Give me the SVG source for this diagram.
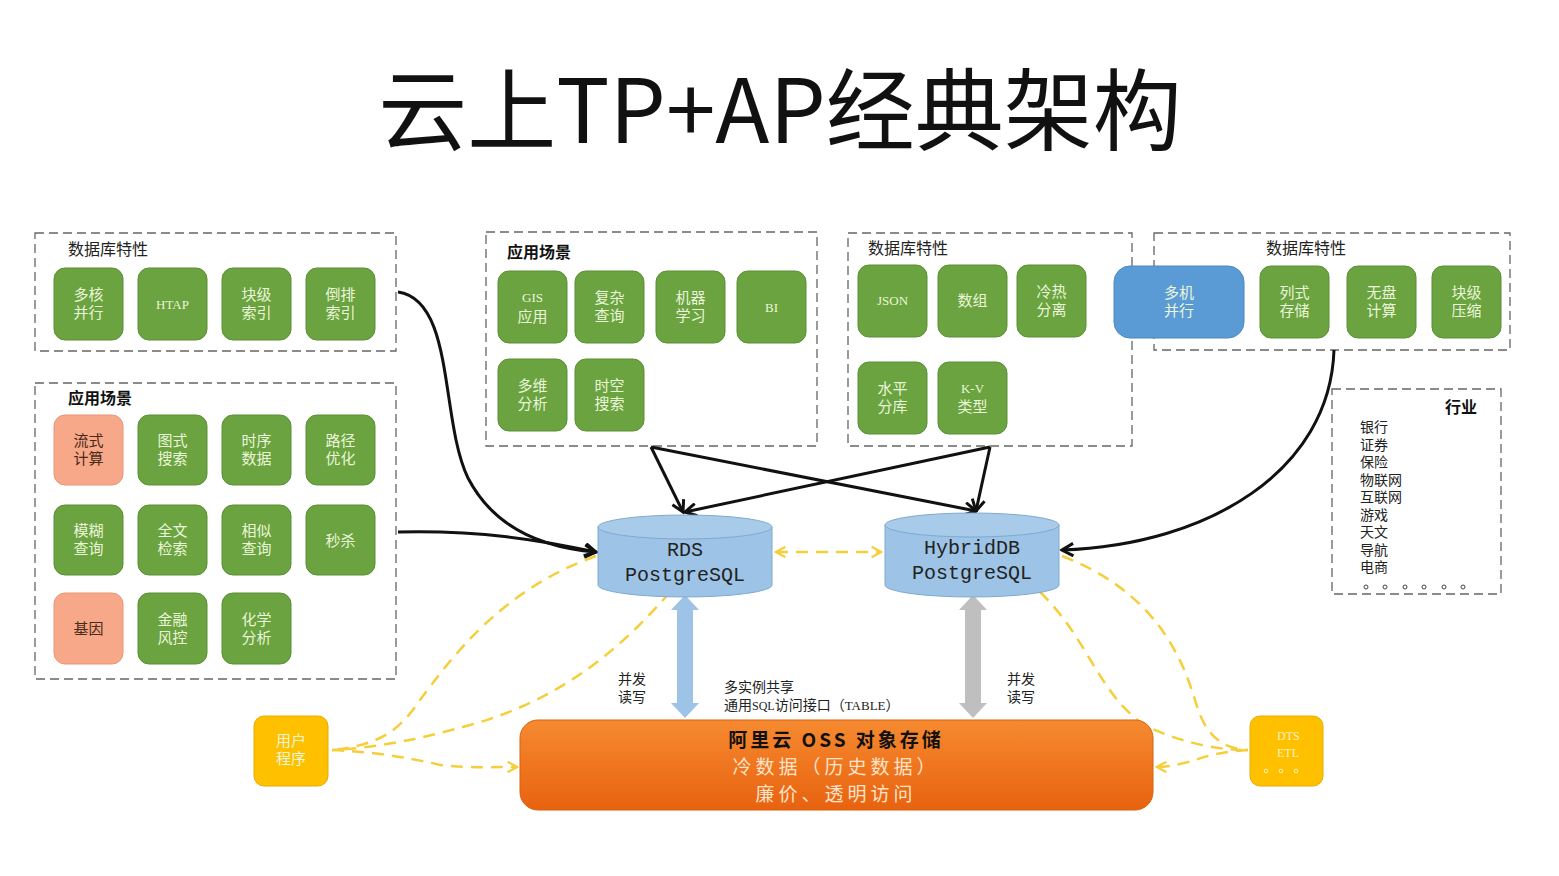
<svg xmlns="http://www.w3.org/2000/svg" width="1559" height="876" viewBox="0 0 1559 876">
<defs>
<style>
.box{fill:none;stroke:#666;stroke-width:1.3;stroke-dasharray:9 5}
.hdr{font-family:"Noto Sans CJK SC","Noto Sans",sans-serif;font-size:16px;fill:#222}
.hdrb{font-family:"Noto Sans CJK SC","Noto Sans",sans-serif;font-size:16px;font-weight:bold;fill:#111}
.g{fill:#6aa33f;stroke:#5a8f35;stroke-width:1}
.s{fill:#f7a888;stroke:#e8957a;stroke-width:1}
.b{fill:#5b9bd5;stroke:#4a88c2;stroke-width:1}
.t{font-family:"Noto Sans CJK SC","Noto Sans",sans-serif;font-size:15px;fill:#eaf6da;text-anchor:middle}
.td{font-family:"Noto Sans CJK SC","Noto Sans",sans-serif;font-size:15px;fill:#4a2a1a;text-anchor:middle}
.tm{font-family:"Liberation Serif",serif;font-size:13px;fill:#eaf6da;text-anchor:middle}
.blk{fill:none;stroke:#111;stroke-width:3}
.yel{fill:none;stroke:#f5cf3a;stroke-width:2.5;stroke-dasharray:12 8}
.lbl{font-family:"Noto Sans CJK SC","Noto Sans",sans-serif;font-size:14px;fill:#222}
.ind{font-family:"Noto Sans CJK SC","Noto Sans",sans-serif;font-size:14px;fill:#222}
.cyl{fill:#9dc3e6;stroke:#7fa9d0;stroke-width:1}
.cylt{font-family:"Liberation Mono",monospace;font-size:20px;fill:#222;text-anchor:middle}
.oss{font-family:"Noto Sans CJK SC","Noto Sans",sans-serif;font-size:19px;text-anchor:middle;letter-spacing:4px}
</style>
<marker id="ab" viewBox="0 0 12 12" refX="10" refY="6" markerWidth="5" markerHeight="5" orient="auto"><path d="M1,1 L10,6 L1,11" fill="none" stroke="#111" stroke-width="2.4"/></marker>
<marker id="ay" viewBox="0 0 12 12" refX="10" refY="6" markerWidth="5" markerHeight="5" orient="auto-start-reverse"><path d="M1,1 L10,6 L1,11" fill="none" stroke="#f5cf3a" stroke-width="2.2"/></marker>
<linearGradient id="og" x1="0" y1="0" x2="0" y2="1"><stop offset="0" stop-color="#f68a30"/><stop offset="1" stop-color="#e8620f"/></linearGradient>
</defs>
<rect width="1559" height="876" fill="#fff"/>
<text x="780" y="143" text-anchor="middle" font-family="'Noto Sans CJK SC','Noto Sans',sans-serif" font-size="89" fill="#111">云上TP+AP经典架构</text>

<g id="box-db1">
<rect class="box" x="35" y="233" width="361" height="118"/>
<text class="hdr" x="68" y="255">数据库特性</text>
<rect class="g" x="54" y="268" width="69" height="72" rx="11"/><text class="t" x="88.5" y="300">多核</text><text class="t" x="88.5" y="318">并行</text>
<rect class="g" x="138" y="268" width="69" height="72" rx="11"/><text class="tm" x="172.5" y="309">HTAP</text>
<rect class="g" x="222" y="268" width="69" height="72" rx="11"/><text class="t" x="256.5" y="300">块级</text><text class="t" x="256.5" y="318">索引</text>
<rect class="g" x="306" y="268" width="69" height="72" rx="11"/><text class="t" x="340.5" y="300">倒排</text><text class="t" x="340.5" y="318">索引</text>
</g>

<g id="box-app1">
<rect class="box" x="35" y="383" width="361" height="296"/>
<text class="hdrb" x="68" y="404">应用场景</text>
<rect class="s" x="54" y="415" width="69" height="70" rx="11"/><text class="td" x="88.5" y="446">流式</text><text class="td" x="88.5" y="464">计算</text>
<rect class="g" x="138" y="415" width="69" height="70" rx="11"/><text class="t" x="172.5" y="446">图式</text><text class="t" x="172.5" y="464">搜索</text>
<rect class="g" x="222" y="415" width="69" height="70" rx="11"/><text class="t" x="256.5" y="446">时序</text><text class="t" x="256.5" y="464">数据</text>
<rect class="g" x="306" y="415" width="69" height="70" rx="11"/><text class="t" x="340.5" y="446">路径</text><text class="t" x="340.5" y="464">优化</text>
<rect class="g" x="54" y="505" width="69" height="70" rx="11"/><text class="t" x="88.5" y="536">模糊</text><text class="t" x="88.5" y="554">查询</text>
<rect class="g" x="138" y="505" width="69" height="70" rx="11"/><text class="t" x="172.5" y="536">全文</text><text class="t" x="172.5" y="554">检索</text>
<rect class="g" x="222" y="505" width="69" height="70" rx="11"/><text class="t" x="256.5" y="536">相似</text><text class="t" x="256.5" y="554">查询</text>
<rect class="g" x="306" y="505" width="69" height="70" rx="11"/><text class="t" x="340.5" y="546">秒杀</text>
<rect class="s" x="54" y="593" width="69" height="71" rx="11"/><text class="td" x="88.5" y="634">基因</text>
<rect class="g" x="138" y="593" width="69" height="71" rx="11"/><text class="t" x="172.5" y="625">金融</text><text class="t" x="172.5" y="643">风控</text>
<rect class="g" x="222" y="593" width="69" height="71" rx="11"/><text class="t" x="256.5" y="625">化学</text><text class="t" x="256.5" y="643">分析</text>
</g>

<g id="box-app2">
<rect class="box" x="486" y="232" width="331" height="214"/>
<text class="hdrb" x="507" y="258">应用场景</text>
<rect class="g" x="498" y="271" width="69" height="72" rx="11"/><text class="tm" x="532.5" y="302">GIS</text><text class="t" x="532.5" y="322">应用</text>
<rect class="g" x="575" y="271" width="69" height="72" rx="11"/><text class="t" x="609.5" y="303">复杂</text><text class="t" x="609.5" y="321">查询</text>
<rect class="g" x="656" y="271" width="69" height="72" rx="11"/><text class="t" x="690.5" y="303">机器</text><text class="t" x="690.5" y="321">学习</text>
<rect class="g" x="737" y="271" width="69" height="72" rx="11"/><text class="tm" x="771.5" y="312">BI</text>
<rect class="g" x="498" y="359" width="69" height="72" rx="11"/><text class="t" x="532.5" y="391">多维</text><text class="t" x="532.5" y="409">分析</text>
<rect class="g" x="575" y="359" width="69" height="72" rx="11"/><text class="t" x="609.5" y="391">时空</text><text class="t" x="609.5" y="409">搜索</text>
</g>

<g id="box-db2">
<rect class="box" x="848" y="233" width="284" height="213"/>
<text class="hdr" x="868" y="254">数据库特性</text>
<rect class="g" x="858" y="265" width="69" height="72" rx="11"/><text class="tm" x="892.5" y="305">JSON</text>
<rect class="g" x="938" y="265" width="69" height="72" rx="11"/><text class="t" x="972.5" y="306">数组</text>
<rect class="g" x="1017" y="265" width="69" height="72" rx="11"/><text class="t" x="1051.5" y="297">冷热</text><text class="t" x="1051.5" y="315">分离</text>
<rect class="g" x="858" y="362" width="69" height="72" rx="11"/><text class="t" x="892.5" y="394">水平</text><text class="t" x="892.5" y="412">分库</text>
<rect class="g" x="938" y="362" width="69" height="72" rx="11"/><text class="tm" x="972.5" y="393">K-V</text><text class="t" x="972.5" y="412">类型</text>
</g>

<g id="box-db3">
<rect class="box" x="1154" y="233" width="356" height="117"/>
<text class="hdr" x="1306" y="254" text-anchor="middle">数据库特性</text>
<rect class="b" x="1114" y="266" width="130" height="72" rx="16"/><text class="t" x="1179" y="298">多机</text><text class="t" x="1179" y="316">并行</text>
<rect class="g" x="1260" y="266" width="69" height="72" rx="11"/><text class="t" x="1294.5" y="298">列式</text><text class="t" x="1294.5" y="316">存储</text>
<rect class="g" x="1347" y="266" width="69" height="72" rx="11"/><text class="t" x="1381.5" y="298">无盘</text><text class="t" x="1381.5" y="316">计算</text>
<rect class="g" x="1432" y="266" width="69" height="72" rx="11"/><text class="t" x="1466.5" y="298">块级</text><text class="t" x="1466.5" y="316">压缩</text>
</g>

<g id="box-industry">
<rect class="box" x="1332" y="389" width="169" height="205"/>
<text class="hdrb" x="1445" y="413">行业</text>
<text class="ind" x="1360" y="432">银行</text>
<text class="ind" x="1360" y="449.5">证券</text>
<text class="ind" x="1360" y="467">保险</text>
<text class="ind" x="1360" y="484.5">物联网</text>
<text class="ind" x="1360" y="502">互联网</text>
<text class="ind" x="1360" y="519.5">游戏</text>
<text class="ind" x="1360" y="537">天文</text>
<text class="ind" x="1360" y="554.5">导航</text>
<text class="ind" x="1360" y="572">电商</text>
<g fill="none" stroke="#444" stroke-width="1"><circle cx="1366" cy="587" r="2"/><circle cx="1385" cy="587" r="2"/><circle cx="1405" cy="587" r="2"/><circle cx="1424" cy="587" r="2"/><circle cx="1444" cy="587" r="2"/><circle cx="1463" cy="587" r="2"/></g>
</g>

<g id="connectors">
<path class="blk" marker-end="url(#ab)" d="M398,292 C455,300 440,420 468,478 C495,530 545,548 596,552"/>
<path class="blk" marker-end="url(#ab)" d="M398,532 C480,530 540,540 596,552"/>
<path class="blk" marker-end="url(#ab)" d="M651,447 L683,512"/>
<path class="blk" marker-end="url(#ab)" d="M651,447 L976,511"/>
<path class="blk" marker-end="url(#ab)" d="M990,447 L976,511"/>
<path class="blk" marker-end="url(#ab)" d="M990,447 L685,512"/>
<path class="blk" marker-end="url(#ab)" d="M1334,350 C1330,470 1210,545 1062,550"/>
<path class="yel" marker-start="url(#ay)" marker-end="url(#ay)" d="M776,552 L881,552"/>
<path class="yel" d="M596,556 C500,590 450,660 420,700 C400,730 380,745 332,750"/>
<path class="yel" d="M670,592 C620,650 560,700 470,725 C410,742 370,748 332,750"/>
<path class="yel" marker-end="url(#ay)" d="M332,750 C380,752 420,760 440,765 C470,768 495,767 517,767"/>
<path class="yel" d="M1062,556 C1150,590 1180,650 1195,700 C1205,735 1220,748 1248,750"/>
<path class="yel" d="M1040,592 C1090,640 1100,700 1150,728 C1190,745 1220,750 1248,750"/>
<path class="yel" marker-end="url(#ay)" d="M1248,750 C1210,752 1200,760 1180,764 C1170,766 1165,767 1157,767"/>
<polygon fill="#9dc3e6" points="685,595 699,610 693,610 693,703 699,703 685,718 671,703 677,703 677,610 671,610"/>
<polygon fill="#bfbfbf" points="973,595 987,610 981,610 981,703 987,703 973,718 959,703 965,703 965,610 959,610"/>
</g>

<g id="rds">
<path class="cyl" d="M598,527 V585 A87,12 0 0 0 772,585 V527 Z"/>
<ellipse cx="685" cy="527" rx="87" ry="12" fill="#a9cbea" stroke="#7fa9d0"/>
<text class="cylt" x="685" y="556">RDS</text>
<text class="cylt" x="685" y="581">PostgreSQL</text>
</g>
<g id="hybriddb">
<path class="cyl" d="M885,525 V585 A87,12 0 0 0 1059,585 V525 Z"/>
<ellipse cx="972" cy="525" rx="87" ry="12" fill="#a9cbea" stroke="#7fa9d0"/>
<text class="cylt" x="972" y="554">HybridDB</text>
<text class="cylt" x="972" y="579">PostgreSQL</text>
</g>

<g id="labels">
<text class="lbl" x="618" y="684">并发</text><text class="lbl" x="618" y="702">读写</text>
<text class="lbl" x="724" y="692">多实例共享</text>
<text class="lbl" x="724" y="710">通用<tspan font-family="'Liberation Serif',serif" font-size="12">SQL</tspan>访问接口（<tspan font-family="'Liberation Serif',serif" font-size="13">TABLE</tspan>）</text>
<text class="lbl" x="1007" y="684">并发</text><text class="lbl" x="1007" y="702">读写</text>
</g>

<g id="oss">
<rect x="520" y="720" width="633" height="90" rx="18" fill="url(#og)" stroke="#d9600f"/>
<text class="oss" x="836" y="747" font-weight="bold" fill="#111" style="letter-spacing:3px">阿里云 OSS 对象存储</text>
<text class="oss" x="836" y="774" fill="#ffe3c8">冷数据（历史数据）</text>
<text class="oss" x="836" y="801" fill="#ffe3c8">廉价、透明访问</text>
</g>

<g id="user-app">
<rect x="254" y="716" width="74" height="70" rx="10" fill="#ffc000" stroke="#e6ad00"/>
<text class="t" x="291" y="746" fill="#fff3c0">用户</text><text class="t" x="291" y="764">程序</text>
</g>
<g id="dts">
<rect x="1250" y="716" width="73" height="70" rx="10" fill="#ffc000" stroke="#e6ad00"/>
<text x="1277" y="740" font-family="'Liberation Serif',serif" font-size="12" fill="#fff3c0">DTS</text>
<text x="1277" y="757" font-family="'Liberation Serif',serif" font-size="12" fill="#fff3c0">ETL</text>
<g fill="none" stroke="#fff3c0" stroke-width="1"><circle cx="1266" cy="771" r="1.8"/><circle cx="1281" cy="771" r="1.8"/><circle cx="1296" cy="771" r="1.8"/></g>
</g>
</svg>
